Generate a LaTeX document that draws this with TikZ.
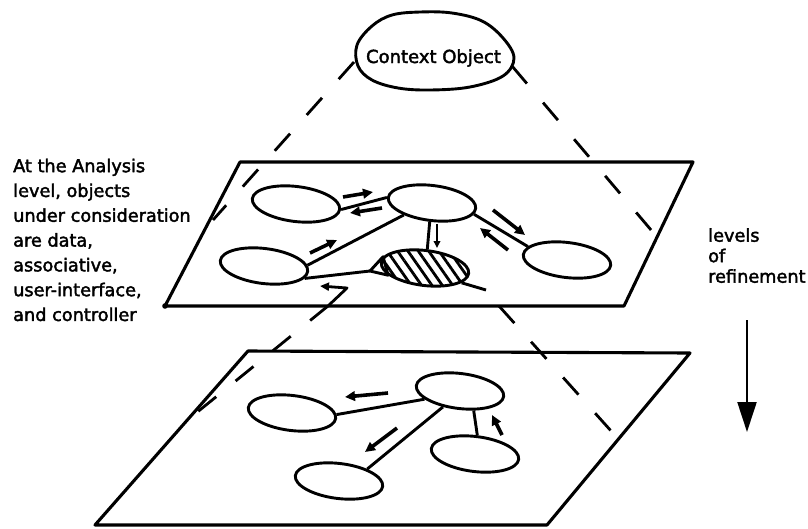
\documentclass[tikz,border=0pt]{standalone}
\usepackage{fontspec}
\setmainfont{DejaVu Sans}[BoldFont=DejaVu Sans, BoldFeatures={FakeBold=2.2}]
\usetikzlibrary{shapes.geometric,arrows.meta,patterns.meta,calc}
\begin{document}
\begin{tikzpicture}[x=1pt,y=-1pt,
  plane/.style={line width=3.1pt, line join=round},
  obj/.style={ellipse, draw, line width=2.9pt, minimum width=88pt, minimum height=35pt, inner sep=0pt, rotate=-7},
  link/.style={line width=2.9pt},
  cone/.style={line width=2.8pt, dash pattern=on 23pt off 25pt},
  msg/.style={line width=3.6pt, -{Triangle[length=10pt,width=9.5pt]}},
  thinmsg/.style={line width=1.8pt, -{Triangle[length=7pt,width=6.5pt]}},
  lbl/.style={font=\fontsize{17.7}{24.8}\selectfont\bfseries, align=left, inner sep=0pt, anchor=north west}
]
\useasboundingbox (0,0) rectangle (808,528);

% context object at the top
\node[font=\fontsize{18}{20}\selectfont\bfseries, inner sep=0pt, anchor=base] (ctx) at (433.5,63) {Context Object};
\draw[line width=2.9pt] plot[smooth cycle, tension=0.6] coordinates {
  (357,45) (372,26) (392,15) (420,12) (452,13) (482,21) (503,38) (514,58)
  (503,76) (470,87) (430,90) (398,88) (372,80) (358,66)};
\coordinate (ctxL) at (354,62);
\coordinate (ctxR) at (512,66);

% the two planes
\draw[plane] (240,162) -- (693,162) -- (624,306) -- (165,306) -- cycle;
\fill (165,306) circle (2.8pt);
\draw[plane] (248,351) -- (690,353) -- (547,525) -- (95,525) -- cycle;

% cone lines
\coordinate (upL) at (213,220);
\coordinate (upR) at (657,237);
\coordinate (loLs) at (328,306);
\coordinate (loLe) at (190,418);
\coordinate (loRs) at (499,306);
\coordinate (loRe) at (612,432);
\draw[cone] (ctxL) -- (upL);
\draw[cone] (ctxR) -- (upR);
\draw[cone] (loLs) -- (loLe);
\draw[cone] (loRs) -- (loRe);

% analysis level objects
\node[obj] (E1) at (296,204) {};
\node[obj] (E2) at (432,203) {};
\node[obj] (E3) at (264,266) {};
\node[obj] (E4) at (567,260) {};
\node[obj, pattern={Lines[angle=-55,distance=8.5pt,line width=2.8pt]}] (H) at (425,268) {};

\draw[link] (E1.east) -- (E2.west);
\draw[link] (E2.-150) -- (E3.8);
\draw[link] (E2.south) -- (H.north);
\draw[link] (E2.-8) -- (E4.168);
\coordinate (tri) at (370,271);
\draw[link] (E3.-10) -- (tri);
\draw[link, line join=round] (tri) -- (H.172) -- (H.198) -- cycle;
\coordinate (Htail) at (486,290);
\draw[link] (H.-15) -- (Htail);

% messages on the analysis level
\draw[msg] (343,197) -- (373,192);
\draw[msg] (382,208) -- (350,213);
\draw[msg] (310,253) -- (337,240);
\draw[thinmsg] (437,224) -- (437,248);
\draw[msg] (493,210) -- (525,235);
\draw[msg] (508,250) -- (480,228);
\draw[line width=2.8pt, line join=round, -{Triangle[length=9pt,width=8pt]}] (loLs) -- (347,288) -- (320,286);

% refined level objects
\node[obj] (L1) at (292,413) {};
\node[obj] (L2) at (460,391) {};
\node[obj] (L3) at (339,481) {};
\node[obj] (L4) at (475,454) {};

\draw[link] (L1.5) -- (L2.200);
\draw[link] (L2.-130) -- (L3.30);
\draw[link] (L2.-48) -- (L4.north);

\draw[msg] (388,393) -- (345,397);
\draw[msg] (397,428) -- (365,452);
\draw[msg] (502,435) -- (492,415);

% side notes
\node[lbl] (analysis) at (13,158.5) {At the Analysis\\level, objects\\under consideration\\are data,\\associative,\\user-interface,\\and controller};
\node[lbl, font=\fontsize{17.7}{20.5}\selectfont\bfseries] (levels) at (708,228) {levels\\of\\refinement};
\coordinate (lvTop) at (747,320);
\coordinate (lvEnd) at (747,432);
\draw[line width=2.2pt, -{Triangle[length=30pt,width=19pt]}] (lvTop) -- (lvEnd);
\end{tikzpicture}
\end{document}
